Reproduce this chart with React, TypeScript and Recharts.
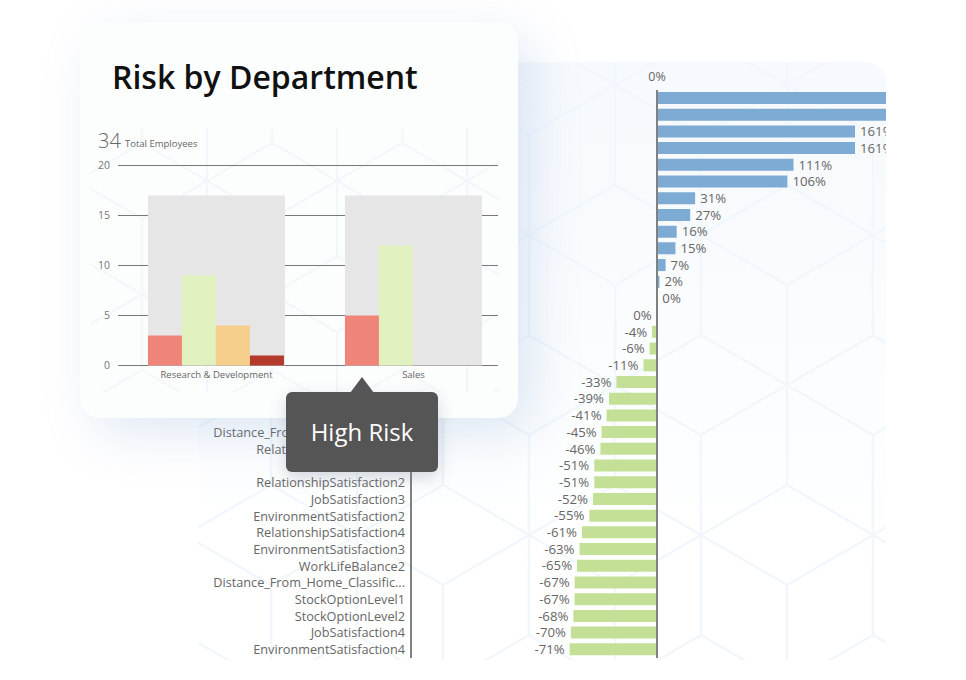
import { BarChart, Bar, XAxis, YAxis, CartesianGrid, Cell, LabelList, ReferenceLine } from "recharts"

const font = '"Open Sans", sans-serif'

// front chart
const departments = ["Research & Development", "Sales"]
const totalEmployees = [17, 17]
const highRisk = [3, 5]
const lowRisk = [9, 12]
const mediumRisk = [4, null]
const criticalRisk = [1, null]
const countTicks = [0, 5, 10, 15, 20]

// back chart, "" where the label is hidden behind the card
const factorNames = [
    "", "", "", "", "", "", "", "", "", "", "", "", "", "", "", "", "", "", "", "",
    "Distance_From_Home_Classific...",
    "RelationshipSatisfaction3",
    "",
    "RelationshipSatisfaction2",
    "JobSatisfaction3",
    "EnvironmentSatisfaction2",
    "RelationshipSatisfaction4",
    "EnvironmentSatisfaction3",
    "WorkLifeBalance2",
    "Distance_From_Home_Classific...",
    "StockOptionLevel1",
    "StockOptionLevel2",
    "JobSatisfaction4",
    "EnvironmentSatisfaction4",
]
const factorValues = [
    200, 200, 161, 161, 111, 106, 31, 27, 16, 15, 7, 2, 0.3, -0.3, -4, -6, -11, -33, -39, -41, -45, -46, -51, -51, -52,
    -55, -61, -63, -65, -67, -67, -68, -70, -71,
]

const departmentData = departments.map((name, i) => ({
    name,
    total: totalEmployees[i],
    high: highRisk[i],
    low: lowRisk[i],
    medium: mediumRisk[i],
    critical: criticalRisk[i],
}))
const factorData = factorNames.map((name, i) => ({ name, value: factorValues[i] }))

// isometric cube tile for the backdrop
const cubeTile =
    "M0 50L86 0L172 50V150L86 200L0 150V50M86 100L0 50M86 100L172 50M86 100V200M86 200V300M0 250L86 200M172 250L86 200M0 250V300M172 250V300M0 0V50M172 0V50"

function Cubes({ id, x, y, scale, color }: { id: string; x: number; y: number; scale: number; color: string }) {
    return (
        <svg width="100%" height="100%" style={{ position: "absolute", left: 0, top: 0 }}>
            <defs>
                <pattern id={id} width={172} height={300} patternUnits="userSpaceOnUse" patternTransform={`translate(${x} ${y}) scale(${scale})`}>
                    <path d={cubeTile} fill="none" stroke={color} strokeWidth={2.5} />
                </pattern>
            </defs>
            <rect width="100%" height="100%" fill={`url(#${id})`} />
        </svg>
    )
}

export default function App() {
    return (
        <div style={{ position: "absolute", left: 0, top: 0, width: 966, height: 680, overflow: "hidden", background: "#fff", fontFamily: font }}>
            {/* back panel */}
            <div
                style={{
                    position: "absolute",
                    left: 198,
                    top: 62,
                    width: 688,
                    height: 598,
                    overflow: "hidden",
                    borderRadius: 20,
                    background: "linear-gradient(180deg, #f6f9fd 0%, #fbfdfe 55%, #ffffff 85%)",
                }}
            >
                <Cubes id="cubeBack" x={503} y={423} scale={1} color="#f1f7fc" />
                <div style={{ position: "absolute", left: 0, top: 0 }}>
                    <BarChart width={828} height={596} layout="vertical" data={factorData} margin={{ top: 0, right: 0, bottom: 0, left: 0 }}>
                        <XAxis
                            type="number"
                            orientation="top"
                            domain={[-200, 300]}
                            ticks={[0]}
                            height={28}
                            axisLine={false}
                            tickLine={false}
                            tickMargin={3}
                            tickFormatter={(v) => `${v}%`}
                            tick={{ fontSize: 12.5, fill: "#666", fontFamily: font }}
                        />
                        <YAxis
                            type="category"
                            dataKey="name"
                            width={213}
                            interval={0}
                            tickLine={false}
                            tickMargin={0}
                            axisLine={{ stroke: "#808080", strokeWidth: 2 }}
                            tick={{ fontSize: 12.7, fill: "#666", fontFamily: font }}
                        />
                        <ReferenceLine x={0} stroke="#808080" strokeWidth={2} />
                        <Bar dataKey="value" barSize={12} isAnimationActive={false}>
                            {factorValues.map((v, i) => (
                                <Cell key={i} fill={v >= 0 ? "#7eabd3" : "#c3e096"} />
                            ))}
                            <LabelList
                                dataKey="value"
                                position="right"
                                offset={5}
                                formatter={(v: number) => `${Math.round(v)}%`}
                                style={{ fontSize: 13.2, fill: "#666", fontFamily: font }}
                            />
                        </Bar>
                    </BarChart>
                </div>
            </div>

            {/* front card */}
            <div
                style={{
                    position: "absolute",
                    left: 80,
                    top: 22,
                    width: 438,
                    height: 396,
                    borderRadius: 20,
                    background: "#fcfdfd",
                    boxShadow: "14px 16px 50px rgba(130,165,215,0.24)",
                }}
            >
                <div style={{ position: "absolute", left: 10, top: 106, width: 410, height: 264, overflow: "hidden" }}>
                    <Cubes id="cubeCard" x={117} y={15} scale={0.756} color="#f2f7fb" />
                </div>
                <div style={{ position: "absolute", left: 32, top: 32, fontSize: 32, fontWeight: 600, color: "#111", lineHeight: "46px", whiteSpace: "nowrap" }}>
                    Risk by Department
                </div>
                <div style={{ position: "absolute", left: 18, top: 105, fontSize: 20, fontWeight: 300, color: "#666", lineHeight: "28px" }}>34</div>
                <div style={{ position: "absolute", left: 45, top: 115, fontSize: 9.5, color: "#666", lineHeight: "14px" }}>Total Employees</div>
                <div style={{ position: "absolute", left: 0, top: 118 }}>
                    <BarChart width={438} height={255.5} data={departmentData} barCategoryGap="15.2%" barGap={0} margin={{ top: 25.5, right: 20, bottom: 0, left: 0 }}>
                        <XAxis
                            dataKey="name"
                            height={30}
                            padding={{ left: 0, right: -14 }}
                            axisLine={false}
                            tickLine={false}
                            tickMargin={0}
                            interval={0}
                            tick={{ fontSize: 9.5, fill: "#666", fontFamily: font }}
                        />
                        <XAxis xAxisId="bg" dataKey="name" hide padding={{ left: 0, right: -14 }} />
                        <YAxis
                            domain={[0, 20]}
                            ticks={countTicks}
                            width={38}
                            axisLine={false}
                            tickLine={false}
                            tick={{ fontSize: 10.5, fill: "#777", fontFamily: font }}
                        />
                        <Bar xAxisId="bg" dataKey="total" fill="#e6e6e6" isAnimationActive={false} />
                        <CartesianGrid vertical={false} stroke="#777" />
                        <Bar dataKey="high" fill="#ee8578" isAnimationActive={false} />
                        <Bar dataKey="low" fill="#e0f1bf" isAnimationActive={false} />
                        <Bar dataKey="medium" fill="#f6cf8c" isAnimationActive={false} />
                        <Bar dataKey="critical" fill="#b43b2c" isAnimationActive={false} />
                    </BarChart>
                </div>
            </div>

            {/* callout */}
            <div
                style={{
                    position: "absolute",
                    left: 350,
                    top: 377,
                    width: 0,
                    height: 0,
                    borderLeft: "12px solid transparent",
                    borderRight: "12px solid transparent",
                    borderBottom: "16px solid #555",
                }}
            />
            <div
                style={{
                    position: "absolute",
                    left: 286,
                    top: 392,
                    width: 152,
                    height: 80,
                    borderRadius: 6,
                    background: "#555",
                    color: "#fff",
                    fontSize: 24,
                    lineHeight: "80px",
                    textAlign: "center",
                    boxShadow: "0 6px 16px rgba(120,130,150,0.3)",
                }}
            >
                High Risk
            </div>
        </div>
    )
}
